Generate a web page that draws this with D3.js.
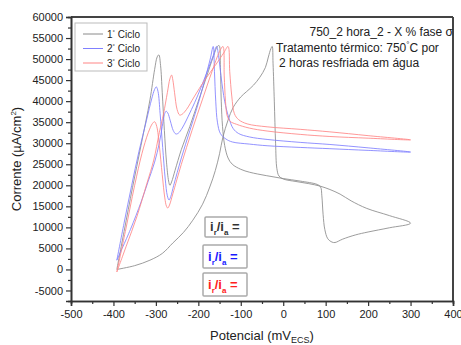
<!DOCTYPE html>
<html><head><meta charset="utf-8">
<script src="https://cdn.jsdelivr.net/npm/d3@7/dist/d3.min.js"></script>
<style>
body{margin:0;background:#fff}
svg{display:block;font-family:"Liberation Sans",Arial,sans-serif}
</style>
</head><body>
<svg id="chart" width="461" height="345"></svg>
<script>
// ---------- DATA ----------
const xTickValues = [-500,-400,-300,-200,-100,0,100,200,300,400];
const yTickValues = [-5000,0,5000,10000,15000,20000,25000,30000,35000,40000,45000,50000,55000,60000];
const seriesNames = ["1", "2", "3"];

// Cycle 1 (gray): potential (mV ECS) and current (µA/cm²), in scan order
const cycle1E = [-392,-375,-355,-335,-314,-303,-297,-293,-289,-285,-280,-275,-270,-267,-263,-255,-240,-220,-200,-180,-165,-155,-151,-148,-146,-143,-138,-130,-120,-100,-79,-40,0,40,80,88,91,94,98,105,115,122,140,170,200,250,300,
  250,197,160,134,110,87,60,30,0,-10,-15,-18,-21,-24,-26,-29,-35,-42,-55,-70,-86,-100,-118,-130,-142,-150,-160,-173,-190,-213,-235,-260,-285,-314,-350,-392];
const cycle1I = [0,9000,19500,29500,40300,47500,50500,51000,48500,42000,33000,25500,21000,20000,20800,23500,28500,34000,40000,46000,50500,53000,53200,48000,40000,34000,29500,26500,25000,23800,23100,22300,21600,21000,20200,19600,17500,13000,9500,7300,6500,6400,7200,8200,8900,9900,11000,
  12800,14500,16300,17900,19000,19800,20400,20900,21500,22200,24000,30000,40000,49000,53000,52500,50500,48000,45700,43800,42300,41000,38500,35500,31500,27500,23500,19600,15500,11700,8800,6300,3800,2200,900,0];

// Cycle 2 (blue)
const cycle2E = [-392,-375,-357,-340,-322,-310,-303,-299,-295,-290,-284,-278,-273,-269,-265,-258,-240,-220,-200,-185,-172,-165,-162,-159,-155,-148,-135,-120,-80,-38,40,110,200,300,
  200,110,40,-38,-80,-105,-118,-128,-138,-146,-152,-157,-165,-185,-205,-220,-238,-247,-253,-259,-266,-272,-276,-280,-285,-292,-303,-318,-335,-360,-392];
const cycle2I = [2200,11000,20000,28000,35500,40500,42800,43400,42300,37000,29000,21500,17500,16500,17300,20000,26500,33000,39500,45000,50000,53000,47000,40000,35000,32300,31000,30300,29800,29400,29000,28700,28300,27900,
  28900,29700,30200,30900,31500,32300,33500,36000,40000,45500,50500,53000,50800,45500,40500,37200,33600,32400,32200,33000,35300,37200,37600,36800,34000,30000,25500,21000,16000,9500,2200];

// Cycle 3 (red)
const cycle3E = [-392,-372,-350,-333,-318,-308,-303,-298,-292,-285,-279,-275,-272,-268,-260,-240,-215,-190,-168,-150,-142,-139,-136,-132,-125,-110,-80,-38,40,110,200,300,
  200,110,40,-38,-85,-105,-115,-121,-126,-130,-140,-160,-185,-210,-228,-238,-244,-250,-256,-260,-263,-267,-273,-282,-292,-305,-321,-345,-370,-392];
const cycle3I = [-600,9000,20000,27500,32500,34700,35100,34000,29500,22500,17000,15000,14600,15300,18000,25000,33000,40500,47000,51800,53000,46000,40000,36500,35200,34500,33600,32900,32100,31600,31200,30800,
  31800,32700,33300,33900,34600,35600,37000,41000,47000,53000,51500,48500,45000,41000,38000,36900,36700,38000,42000,45000,46200,45300,42000,37000,32500,26000,20500,12500,5500,-600];

// ---------- STYLE ----------
const colors = ["#8a8a8a", "#8080ff", "#ff8585"];
const M = {left: 71, right: 453, top: 17, bottom: 301};

const svg = d3.select("#chart");
const x = d3.scaleLinear().domain([-500, 400]).range([M.left, M.right]);
const y = d3.scaleLinear().domain([-7500, 60000]).range([M.bottom, M.top]);
const fmt = d => String(d);

// curves
const series = [
  {E: cycle1E, I: cycle1I},
  {E: cycle2E, I: cycle2I},
  {E: cycle3E, I: cycle3I}
];
const line = d3.line().x(d => x(d[0])).y(d => y(d[1])).curve(d3.curveCatmullRom.alpha(0.5));
const plot = svg.append("g");
series.forEach((s, k) => {
  const pts = s.E.map((e, i) => [e, s.I[i]]);
  plot.append("path").datum(pts).attr("d", line)
    .attr("fill", "none").attr("stroke", colors[k]).attr("stroke-width", 0.85)
    .attr("stroke-linejoin", "round");
});

// frame top/right
svg.append("line").attr("x1", M.left).attr("x2", M.right).attr("y1", M.top).attr("y2", M.top)
  .attr("stroke", "#444").attr("stroke-width", 2);
svg.append("line").attr("x1", M.right).attr("x2", M.right).attr("y1", M.top).attr("y2", M.bottom)
  .attr("stroke", "#444").attr("stroke-width", 2);

// axes
const xMinor = d3.range(-450, 400, 100);
const yMinor = d3.range(-2500, 60000, 5000);
const gx = svg.append("g").attr("transform", `translate(0,${M.bottom})`);
gx.append("g").attr("class", "major")
  .call(d3.axisBottom(x).tickValues(xTickValues).tickSize(5).tickPadding(4).tickFormat(fmt));
gx.append("g").call(d3.axisBottom(x).tickValues(xMinor).tickSize(3).tickFormat(() => ""));
const gy = svg.append("g").attr("transform", `translate(${M.left},0)`);
gy.append("g").attr("class", "major")
  .call(d3.axisLeft(y).tickValues(yTickValues).tickSize(5).tickPadding(3).tickFormat(fmt));
gy.append("g").call(d3.axisLeft(y).tickValues(yMinor).tickSize(3).tickFormat(() => ""));
svg.selectAll(".domain").attr("stroke", "#333").attr("stroke-width", 1.6);
svg.selectAll(".tick line").attr("stroke", "#333").attr("stroke-width", 1.2);
svg.selectAll(".major .tick text").attr("font-size", 11).attr("fill", "#222")
  .attr("font-family", '"Liberation Sans",Arial,sans-serif');

// axis labels
const yl = svg.append("text").attr("transform", `translate(21,${(M.top + M.bottom) / 2}) rotate(-90)`)
  .attr("text-anchor", "middle").attr("font-size", 13).attr("fill", "#222");
yl.append("tspan").text("Corrente (µA/cm");
yl.append("tspan").attr("font-size", 8).attr("dy", -5).text("2");
yl.append("tspan").attr("dy", 5).text(")");

const xl = svg.append("text").attr("x", 262).attr("y", 340).attr("text-anchor", "middle")
  .attr("font-size", 13).attr("fill", "#222");
xl.append("tspan").text("Potencial (mV");
xl.append("tspan").attr("font-size", 9).attr("dy", 3).text("ECS");
xl.append("tspan").attr("dy", -3).text(")");

// legend
const lg = svg.append("g");
lg.append("rect").attr("x", 75).attr("y", 23).attr("width", 72).attr("height", 48)
  .attr("fill", "#fff").attr("stroke", "#bbb").attr("stroke-width", 1);
seriesNames.forEach((n, k) => {
  const yy = 34 + k * 14.5;
  lg.append("line").attr("x1", 83).attr("x2", 103).attr("y1", yy).attr("y2", yy)
    .attr("stroke", colors[k]).attr("stroke-width", 1);
  const t = lg.append("text").attr("x", 107).attr("y", yy + 3.5).attr("font-size", 10).attr("fill", "#222");
  t.append("tspan").text(n);
  t.append("tspan").attr("font-size", 6).attr("dy", -4).text("°");
  t.append("tspan").attr("dy", 4).text(" Ciclo");
});

// annotation
svg.append("text").attr("x", 453).attr("y", 36).attr("text-anchor", "end")
  .attr("font-size", 12).attr("fill", "#222").text("750_2 hora_2 - X % fase σ");
const a2 = svg.append("text").attr("x", 276).attr("y", 52).attr("font-size", 12).attr("fill", "#222");
a2.append("tspan").text("Tratamento térmico: 750");
a2.append("tspan").attr("font-size", 8).attr("dy", -5).text("°");
a2.append("tspan").attr("dy", 5).text("C por");
svg.append("text").attr("x", 279).attr("y", 67).attr("font-size", 12).attr("fill", "#222")
  .text("2 horas resfriada em água");

// ratio boxes
const boxColors = ["#333", "#1a1aff", "#ff2020"];
const boxY = [217, 245, 273];
boxColors.forEach((c, k) => {
  const bx = k === 0 ? 205 : 203, bw = k === 0 ? 42 : 44, bh = k === 0 ? 20 : 23;
  svg.append("rect").attr("x", bx).attr("y", boxY[k]).attr("width", bw).attr("height", bh)
    .attr("fill", "#fff").attr("stroke", "#aaa").attr("stroke-width", 1.5).attr("rx", 1);
  const t = svg.append("text").attr("x", bx + 5).attr("y", boxY[k] + bh / 2 + 4)
    .attr("font-size", 13).attr("font-weight", "bold").attr("fill", c);
  t.append("tspan").text("i");
  t.append("tspan").attr("font-size", 8).attr("dy", 4).text("r");
  t.append("tspan").attr("dy", -4).text("/i");
  t.append("tspan").attr("font-size", 8).attr("dy", 4).text("a");
  t.append("tspan").attr("dy", -4).text(" =");
});
</script>
</body></html>
